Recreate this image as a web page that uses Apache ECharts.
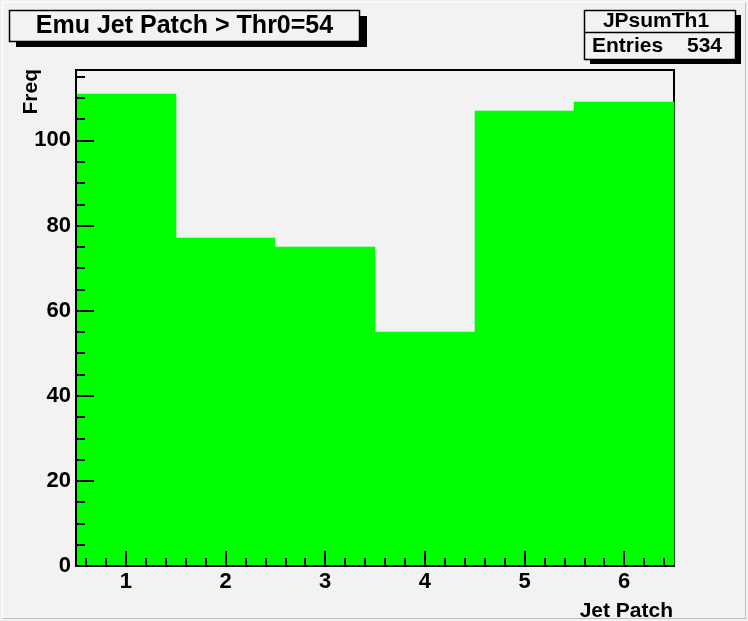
<!DOCTYPE html>
<html>
<head>
<meta charset="utf-8">
<script src="https://cdn.jsdelivr.net/npm/echarts@6/dist/echarts.min.js"></script>
<style>
html,body{margin:0;padding:0;background:#f2f2f2;}
#chart{width:748px;height:621px;}
</style>
</head>
<body>
<div id="chart"></div>
<script>
const bins = [1, 2, 3, 4, 5, 6];
const freq = [111, 77, 75, 55, 107, 109];
const xTickLabels = [1, 2, 3, 4, 5, 6];
const yTickLabels = [0, 20, 40, 60, 80, 100];
const titleText = 'Emu Jet Patch > Thr0=54';
const statsName = 'JPsumTh1';
const statsEntries = 534;

const xMinor = [];
for (let v = 0.6; v < 6.5; v += 0.2) xMinor.push(Math.round(v * 10) / 10);
const yMinor = [];
for (let v = 5; v < 116.5; v += 5) yMinor.push(v);

const FONT = '"Liberation Sans", Arial, sans-serif';
const yMax = Math.max(...freq) * 1.05;

const chart = echarts.init(document.getElementById('chart'), null, {renderer: 'canvas'});
const labelStyle = {color: '#000', fontFamily: FONT, fontWeight: 'bold', fontSize: 22};

chart.setOption({
  backgroundColor: '#f2f2f2',
  animation: false,
  grid: {left: 76, top: 70, width: 598, height: 496, show: true, borderColor: '#000', borderWidth: 2, backgroundColor: 'transparent'},
  xAxis: [
    {type: 'value', min: 0.5, max: 6.5, position: 'bottom', z: 10,
     axisLine: {show: true, lineStyle: {color: '#000', width: 2}},
     axisTick: {show: true, inside: true, length: 15, lineStyle: {color: '#000', width: 2}, customValues: xTickLabels},
     axisLabel: Object.assign({show: true, margin: 5, customValues: xTickLabels}, labelStyle),
     splitLine: {show: false}},
    {type: 'value', min: 0.5, max: 6.5, position: 'bottom', z: 10,
     axisLine: {show: false},
     axisTick: {show: true, inside: true, length: 8, lineStyle: {color: '#000', width: 2}, customValues: xMinor},
     axisLabel: {show: false},
     splitLine: {show: false}}
  ],
  yAxis: [
    {type: 'value', min: 0, max: yMax, position: 'left', z: 10,
     axisLine: {show: true, lineStyle: {color: '#000', width: 2}},
     axisTick: {show: true, inside: true, length: 18, lineStyle: {color: '#000', width: 2}, customValues: yTickLabels},
     axisLabel: Object.assign({show: true, margin: 5, customValues: yTickLabels}, labelStyle),
     splitLine: {show: false}},
    {type: 'value', min: 0, max: yMax, position: 'left', z: 10,
     axisLine: {show: false},
     axisTick: {show: true, inside: true, length: 9, lineStyle: {color: '#000', width: 2}, customValues: yMinor},
     axisLabel: {show: false},
     splitLine: {show: false}}
  ],
  series: [{
    type: 'custom',
    xAxisIndex: 0, yAxisIndex: 0,
    data: bins.map((b, i) => [b, freq[i]]),
    renderItem: function (params, api) {
      const x = api.value(0), y = api.value(1);
      const p0 = api.coord([x - 0.5, y]);
      const p1 = api.coord([x + 0.5, 0]);
      const x0 = Math.round(p0[0]), x1 = Math.round(p1[0]);
      const y0 = Math.round(p0[1]), y1 = Math.round(p1[1]);
      return {type: 'rect', shape: {x: x0, y: y0, width: x1 - x0, height: y1 - y0},
              style: {fill: '#00ff00', stroke: '#00ff00', lineWidth: 0.6}};
    },
    z: 2
  }],
  graphic: [
    // canvas bevel
    {type: 'line', shape: {x1: 2.5, y1: 2.5, x2: 745.5, y2: 2.5}, style: {stroke: '#ffffff', lineWidth: 1}},
    {type: 'line', shape: {x1: 2.5, y1: 2.5, x2: 2.5, y2: 618.5}, style: {stroke: '#ffffff', lineWidth: 1}},
    {type: 'line', shape: {x1: 745.5, y1: 2.5, x2: 745.5, y2: 618.5}, style: {stroke: '#bdbdbd', lineWidth: 1}},
    {type: 'line', shape: {x1: 2.5, y1: 618.5, x2: 745.5, y2: 618.5}, style: {stroke: '#bdbdbd', lineWidth: 1}},
    // title box
    {type: 'rect', shape: {x: 16, y: 16, width: 351, height: 31}, style: {fill: '#000'}, z: 20},
    {type: 'rect', shape: {x: 9.5, y: 10.5, width: 350, height: 31}, style: {fill: '#f2f2f2', stroke: '#000', lineWidth: 1.5}, z: 21},
    {type: 'text', x: 184.5, y: 26, z: 22,
     style: {text: titleText, fill: '#000', font: 'bold 25px ' + FONT, align: 'center', verticalAlign: 'middle'}},
    // stats box
    {type: 'rect', shape: {x: 590, y: 15, width: 151, height: 49}, style: {fill: '#000'}, z: 20},
    {type: 'rect', shape: {x: 584.5, y: 10.5, width: 151, height: 49}, style: {fill: '#f2f2f2', stroke: '#000', lineWidth: 1.5}, z: 21},
    {type: 'line', shape: {x1: 584.5, y1: 32.5, x2: 735.5, y2: 32.5}, style: {stroke: '#000', lineWidth: 1.5}, z: 22},
    {type: 'text', x: 656, y: 21.5, z: 22,
     style: {text: statsName, fill: '#000', font: 'bold 21px ' + FONT, align: 'center', verticalAlign: 'middle'}},
    {type: 'text', x: 592, y: 46.5, z: 22,
     style: {text: 'Entries', fill: '#000', font: 'bold 21px ' + FONT, align: 'left', verticalAlign: 'middle'}},
    {type: 'text', x: 722, y: 46.5, z: 22,
     style: {text: String(statsEntries), fill: '#000', font: 'bold 21px ' + FONT, align: 'right', verticalAlign: 'middle'}},
    // axis titles
    {type: 'text', x: 673, y: 611, z: 22,
     style: {text: 'Jet Patch', fill: '#000', font: 'bold 21px ' + FONT, align: 'right', verticalAlign: 'middle'}},
    {type: 'text', x: 31, y: 69, rotation: Math.PI / 2, z: 22,
     style: {text: 'Freq', fill: '#000', font: 'bold 21px ' + FONT, align: 'right', verticalAlign: 'middle'}}
  ]
});
</script>
</body>
</html>
